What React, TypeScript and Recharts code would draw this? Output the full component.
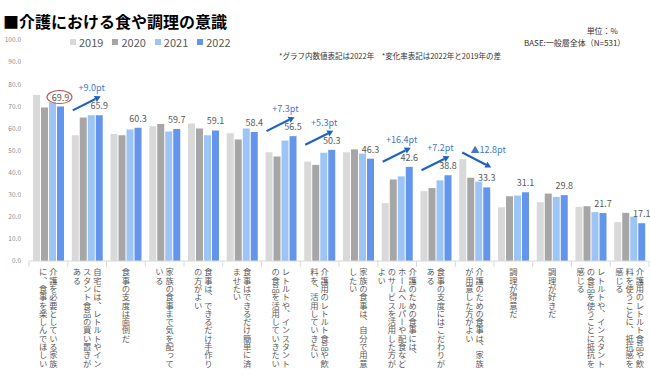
import React from 'react';
import { BarChart, Bar, XAxis, YAxis, LabelList } from 'recharts';

// tick labels, one entry per column of vertical text (right column first)
const categories: string[][] = [
  ['介護を必要としている家族', 'に、食事を楽しんでほしい'],
  ['自宅には、レトルトやイン', 'スタント食品の買い置きが', 'ある'],
  ['食事の支度は面倒だ'],
  ['家族の食事まで気を配って', 'いる'],
  ['食事は、できるだけ手作り', 'の方がよい'],
  ['食事はできるだけ簡単に済', 'ませたい'],
  ['レトルトや、インスタント', 'の食品を活用していきたい'],
  ['介護用のレトルト食品や飲', '料を、活用していきたい'],
  ['家族の食事は、自分で用意', 'したい'],
  ['介護のための食事には、', 'ホームヘルパーや配食など', 'のサービスを活用した方が', 'よい'],
  ['食事の支度にはこだわりが', 'ある'],
  ['介護のための食事は、家族', 'が用意した方がよい'],
  ['調理が得意だ'],
  ['調理が好きだ'],
  ['レトルトや、インスタント', 'の食品を使うことに抵抗を', '感じる'],
  ['介護用のレトルト食品や飲', '料を使うことに、抵抗感を', '感じる'],
];

const values2019 = [75.1, 56.9, 57.5, 61.0, 62.2, 57.8, 49.2, 45.0, 49.2, 26.2, 31.6, 46.1, 24.3, 26.6, 24.5, 17.6];
const values2020 = [69.5, 64.9, 56.9, 62.0, 59.9, 55.0, 47.3, 43.5, 50.5, 36.9, 33.0, 37.7, 29.3, 30.5, 24.8, 21.8];
const values2021 = [71.8, 65.9, 59.5, 58.6, 56.9, 60.0, 54.5, 49.0, 48.6, 38.3, 36.5, 35.9, 29.6, 29.0, 22.1, 20.1];
const values2022 = [69.9, 65.9, 60.3, 59.7, 59.1, 58.4, 56.5, 50.3, 46.3, 42.6, 38.8, 33.3, 31.1, 29.8, 21.7, 17.1];

// 2022 vs 2019 difference notes ('' = none)
const changeLabels = ['', '+9.0pt', '', '', '', '', '+7.3pt', '+5.3pt', '', '+16.4pt', '+7.2pt', '▲12.8pt', '', '', '', ''];
const circledIndex = 0;

const yTicks = [0, 10, 20, 30, 40, 50, 60, 70, 80, 90, 100];

const series = [
  { key: 'y2019', label: '2019', color: '#d9d9d9' },
  { key: 'y2020', label: '2020', color: '#a6a6a6' },
  { key: 'y2021', label: '2021', color: '#9cc5f5' },
  { key: 'y2022', label: '2022', color: '#6495ed' },
];

const data = categories.map((lines, i) => ({
  name: lines.join('\n'),
  y2019: values2019[i],
  y2020: values2020[i],
  y2021: values2021[i],
  y2022: values2022[i],
}));

const FONT = '"Noto Sans CJK JP", "Noto Sans", sans-serif';

const Arrow = ({ x1, y1, x2, y2 }: { x1: number; y1: number; x2: number; y2: number }) => {
  const a = Math.atan2(y2 - y1, x2 - x1);
  const hl = 6;
  const hw = 3.3;
  const bx = x2 - hl * Math.cos(a);
  const by = y2 - hl * Math.sin(a);
  const px = -Math.sin(a) * hw;
  const py = Math.cos(a) * hw;
  return (
    <g>
      <line x1={x1} y1={y1} x2={bx} y2={by} stroke="#1f63c0" strokeWidth={2.2} />
      <polygon points={`${x2},${y2} ${bx + px},${by + py} ${bx - px},${by - py}`} fill="#1f63c0" />
    </g>
  );
};

// value label on the 2022 bar, plus change arrows / highlight ring
const ValueLabel = (props: any) => {
  const { x, y, width, value, index } = props;
  const cx = x + width / 2;
  const note = changeLabels[index];
  const down = note.startsWith('▲');
  return (
    <g>
      <text x={cx} y={y - 6} textAnchor="middle" fontSize={9} fill="#595959" fontFamily={FONT}>
        {Number(value).toFixed(1)}
      </text>
      {index === circledIndex && (
        <ellipse cx={cx - 1} cy={y - 9.5} rx={12.5} ry={6.5} fill="none" stroke="#c0504d" strokeWidth={1.1} />
      )}
      {note && !down && (
        <g>
          <Arrow x1={x - 23} y1={y - 5} x2={x + 5} y2={y - 19} />
          <text x={x - 4} y={y - 24} textAnchor="middle" fontSize={9} fill="#3f78c8" fontFamily={FONT}>
            {note}
          </text>
        </g>
      )}
      {note && down && (
        <g>
          <Arrow x1={x - 21} y1={y - 35} x2={x + 8} y2={y - 20} />
          <text x={x + 5} y={y - 34} textAnchor="middle" fontSize={9} fill="#3f78c8" fontFamily={FONT}>
            {note}
          </text>
        </g>
      )}
    </g>
  );
};

const CategoryTick = (props: any) => {
  const { x, y, payload, index } = props;
  const half = payload?.offset || 19.375;
  const lines = String(payload.value).split('\n');
  const gap = 10.3;
  return (
    <g>
      <line x1={x - half} y1={y} x2={x - half} y2={y + 6} stroke="#d9d9d9" />
      {index === categories.length - 1 && (
        <line x1={x + half} y1={y} x2={x + half} y2={y + 6} stroke="#d9d9d9" />
      )}
      {lines.map((line, i) => (
        <text
          key={i}
          x={x + ((lines.length - 1) / 2 - i) * gap}
          y={y + 7}
          fontSize={8.3}
          fill="#595959"
          fontFamily={FONT}
          style={{ writingMode: 'vertical-rl' }}
        >
          {line}
        </text>
      ))}
    </g>
  );
};

export default function App() {
  return (
    <div style={{ position: 'absolute', left: 0, top: 0, width: 650, height: 378, background: '#fff', fontFamily: FONT }}>
      <div style={{ position: 'absolute', left: 3, top: 9, fontSize: 16, fontWeight: 700, color: '#000', whiteSpace: 'nowrap' }}>
        ■介護における食や調理の意識
      </div>
      <div style={{ position: 'absolute', left: 70, top: 34, display: 'flex', fontSize: 11, color: '#595959' }}>
        {series.map((s) => (
          <div key={s.key} style={{ display: 'flex', alignItems: 'center', marginRight: 9 }}>
            <span style={{ width: 6, height: 6, background: s.color, marginRight: 3, display: 'inline-block' }} />
            {s.label}
          </div>
        ))}
      </div>
      <div style={{ position: 'absolute', left: 279, top: 50, fontSize: 7.5, color: '#333', whiteSpace: 'nowrap' }}>
        *グラフ内数値表記は2022年　*変化率表記は2022年と2019年の差
      </div>
      <div style={{ position: 'absolute', right: 32, top: 26, fontSize: 8, lineHeight: '9px', color: '#333' }}>単位：%</div>
      <div style={{ position: 'absolute', left: 524, top: 38, fontSize: 8, lineHeight: '9px', color: '#333', whiteSpace: 'nowrap' }}>
        BASE:一般層全体（N=531）
      </div>
      <BarChart
        width={650}
        height={378}
        data={data}
        margin={{ top: 40, right: 1, bottom: 0, left: 0 }}
        barCategoryGap={4}
        barGap={1}
      >
        <XAxis
          dataKey="name"
          interval={0}
          height={117}
          axisLine={{ stroke: '#d9d9d9' }}
          tickLine={false}
          tickSize={0}
          tickMargin={0}
          tick={<CategoryTick />}
        />
        <YAxis
          width={29}
          domain={[0, 100]}
          ticks={yTicks}
          axisLine={false}
          tickLine={false}
          tickSize={0}
          tickMargin={8}
          tickFormatter={(v: number) => v.toFixed(1)}
          tick={{ fontSize: 6.5, fill: '#8c8c8c', fontFamily: FONT }}
        />
        {series.map((s) => (
          <Bar key={s.key} dataKey={s.key} fill={s.color} isAnimationActive={false}>
            {s.key === 'y2022' && <LabelList dataKey="y2022" content={<ValueLabel />} />}
          </Bar>
        ))}
      </BarChart>
    </div>
  );
}
